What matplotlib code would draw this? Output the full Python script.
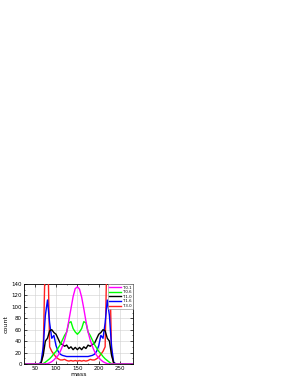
import matplotlib
matplotlib.use('Agg')
import matplotlib.pyplot as plt
import numpy as np

mass = list(range(30, 285, 5))

magenta = [0] * 10 + [0.5, 2, 4, 7, 11, 15, 22, 31, 42, 56, 76, 97, 118, 132, 135,
                      131, 117, 97, 75, 56, 42, 31, 22, 15, 11, 7, 4, 2, 0.5] + [0] * 12
green = [0] * 8 + [0.5, 3, 6, 9, 13, 18, 22, 28, 34, 42, 50, 56, 72, 74, 62, 56, 52,
                   56, 62, 74, 72, 56, 50, 42, 34, 28, 22, 18, 13, 9, 6, 3, 0.5] + [0] * 10
black = [0] * 7 + [2, 15, 40, 45, 58, 60, 55, 52, 44, 36, 34, 31, 33, 27, 30, 25, 29, 25,
                   29, 25, 30, 27, 33, 31, 34, 36, 44, 52, 55, 60, 58, 45, 40, 15, 2] + [0] * 9
blue = [0] * 7 + [3, 30, 85, 112, 72, 45, 50, 32, 22, 17, 15, 14, 13, 13, 13, 13, 13, 13,
                  13, 13, 13, 13, 13, 14, 15, 17, 22, 32, 50, 45, 72, 112, 85, 30, 3] + [0] * 9
red = [0] * 8 + [20, 200, 230, 30, 22, 17, 12, 9, 7, 7, 8, 6, 5, 6, 5, 6, 5,
                 6, 5, 6, 5, 6, 8, 7, 7, 9, 12, 17, 22, 30, 230, 200, 20] + [0] * 10

labels = ['T0.1', 'T0.6', 'T1.0', 'T1.6', 'T3.0']
colors = ['#ff00ff', '#00ff00', 'black', '#0000ff', '#ff2020']

for s in (magenta, green, black, blue, red):
    assert len(s) == len(mass), len(s)

fig = plt.figure(figsize=(3.0, 3.88), dpi=100)
ax = fig.add_axes([0.08, 0.062, 0.363, 0.206])

series = [magenta, green, black, blue, red]
for i, (vals, lab, col) in enumerate(zip(series, labels, colors)):
    ax.plot(mass, vals, color=col, lw=1.0, label=lab, zorder=10 - i)

ax.set_xlim(30, 280)
ax.set_ylim(0, 140)
ax.set_xticks([50, 100, 150, 200, 250])
ax.set_yticks(np.arange(0, 141, 20))
ax.set_xticks(np.arange(25, 281, 25), minor=True)
ax.set_yticks(np.arange(0, 141, 10), minor=True)
ax.tick_params(which='both', direction='in', top=True, right=True, labelsize=4, pad=1.5)
ax.tick_params(which='major', length=2, width=0.5)
ax.tick_params(which='minor', length=1, width=0.4)
ax.grid(True, color='#d0d0d0', lw=0.4)
for sp in ax.spines.values():
    sp.set_linewidth(0.6)
ax.set_xlabel('mass', fontsize=4.5, labelpad=1)
ax.set_ylabel('count', fontsize=4.5, labelpad=2)

leg = ax.legend(loc='upper right', fontsize=2.8, handlelength=3.0, labelspacing=0.15,
                borderpad=0.3, handletextpad=0.4, fancybox=False, framealpha=1,
                borderaxespad=0.1)
leg.get_frame().set_linewidth(0.4)
leg.get_frame().set_edgecolor('#888888')
leg.set_zorder(20)

fig.savefig('out.png', dpi=100)
